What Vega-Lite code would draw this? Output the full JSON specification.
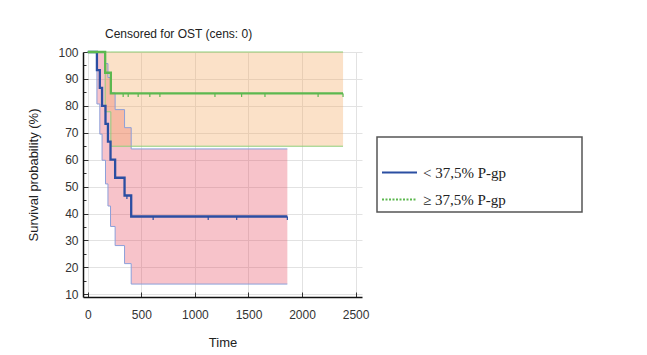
{
  "$schema": "https://vega.github.io/schema/vega-lite/v6.json",
  "width": 279,
  "height": 245,
  "autosize": "none",
  "padding": {"left": 83, "top": 52, "right": 285, "bottom": 58},
  "background": "white",
  "title": {
    "text": "Censored for OST (cens: 0)",
    "anchor": "start",
    "frame": "group",
    "dx": 22,
    "offset": 5,
    "font": "Liberation Sans",
    "fontSize": 12,
    "fontWeight": "normal",
    "color": "#222"
  },
  "config": {
    "view": {"stroke": null},
    "axis": {
      "labelFont": "Liberation Sans",
      "labelFontSize": 12,
      "labelColor": "#333",
      "titleFont": "Liberation Sans",
      "titleFontSize": 13,
      "titleFontWeight": "normal",
      "titleColor": "#222",
      "domainColor": "#111",
      "domainWidth": 1.5,
      "tickColor": "#333",
      "gridColor": "#e2e2e2",
      "labelOverlap": false
    }
  },
  "datasets": {
    "km": [
      {"g": "< 37,5% P-gp", "t": 0, "s": 100, "lo": 100, "hi": 100},
      {"g": "< 37,5% P-gp", "t": 85, "s": 93.3, "lo": 80.7, "hi": 100},
      {"g": "< 37,5% P-gp", "t": 112, "s": 86.7, "lo": 69.5, "hi": 100},
      {"g": "< 37,5% P-gp", "t": 133, "s": 80.0, "lo": 59.8, "hi": 100},
      {"g": "< 37,5% P-gp", "t": 165, "s": 73.3, "lo": 51.0, "hi": 95.7},
      {"g": "< 37,5% P-gp", "t": 188, "s": 66.7, "lo": 42.8, "hi": 90.5},
      {"g": "< 37,5% P-gp", "t": 212, "s": 60.0, "lo": 35.2, "hi": 84.8},
      {"g": "< 37,5% P-gp", "t": 255, "s": 53.3, "lo": 28.1, "hi": 78.6},
      {"g": "< 37,5% P-gp", "t": 343, "s": 46.7, "lo": 21.4, "hi": 71.9},
      {"g": "< 37,5% P-gp", "t": 405, "s": 38.9, "lo": 13.8, "hi": 64.0},
      {"g": "< 37,5% P-gp", "t": 1863, "s": 38.9, "lo": 13.8, "hi": 64.0},
      {"g": "≥ 37,5% P-gp", "t": 0, "s": 100, "lo": 100, "hi": 100},
      {"g": "≥ 37,5% P-gp", "t": 162, "s": 92.3, "lo": 77.8, "hi": 100},
      {"g": "≥ 37,5% P-gp", "t": 215, "s": 84.6, "lo": 65.0, "hi": 100},
      {"g": "≥ 37,5% P-gp", "t": 2383, "s": 84.6, "lo": 65.0, "hi": 100}
    ],
    "censor": [
      {"g": "< 37,5% P-gp", "t": 365, "s": 46.7},
      {"g": "< 37,5% P-gp", "t": 610, "s": 38.9},
      {"g": "< 37,5% P-gp", "t": 1124, "s": 38.9},
      {"g": "< 37,5% P-gp", "t": 1390, "s": 38.9},
      {"g": "< 37,5% P-gp", "t": 1863, "s": 38.9},
      {"g": "≥ 37,5% P-gp", "t": 330, "s": 84.6},
      {"g": "≥ 37,5% P-gp", "t": 377, "s": 84.6},
      {"g": "≥ 37,5% P-gp", "t": 470, "s": 84.6},
      {"g": "≥ 37,5% P-gp", "t": 579, "s": 84.6},
      {"g": "≥ 37,5% P-gp", "t": 673, "s": 84.6},
      {"g": "≥ 37,5% P-gp", "t": 1187, "s": 84.6},
      {"g": "≥ 37,5% P-gp", "t": 1436, "s": 84.6},
      {"g": "≥ 37,5% P-gp", "t": 1654, "s": 84.6},
      {"g": "≥ 37,5% P-gp", "t": 2150, "s": 84.6},
      {"g": "≥ 37,5% P-gp", "t": 2383, "s": 84.6}
    ]
  },
  "data": {"name": "km"},
  "encoding": {
    "x": {
      "field": "t",
      "type": "quantitative",
      "title": "Time",
      "scale": {"domain": [-45, 2560], "nice": false, "zero": false},
      "axis": {
        "values": [0, 500, 1000, 1500, 2000, 2500],
        "format": "d",
        "grid": true,
        "tickSize": -5,
        "labelPadding": 17,
        "titlePadding": 16
      }
    },
    "y": {
      "field": "s",
      "type": "quantitative",
      "title": "Survival probability (%)",
      "scale": {"domain": [9, 100], "nice": false, "zero": false},
      "axis": {
        "values": [10, 15, 20, 25, 30, 35, 40, 45, 50, 55, 60, 65, 70, 75, 80, 85, 90, 95, 100],
        "labelExpr": "datum.value % 10 === 0 ? datum.label : ''",
        "grid": true,
        "gridOpacity": {"condition": {"test": "datum.value % 10 === 0", "value": 1}, "value": 0},
        "tickSize": {"condition": {"test": "datum.value % 10 === 0", "value": -5}, "value": -3},
        "labelPadding": 10,
        "titlePadding": 17
      }
    }
  },
  "layer": [
    {
      "transform": [{"filter": "datum.g === '< 37,5% P-gp'"}],
      "mark": {"type": "area", "interpolate": "step-after", "color": "#e8495f", "opacity": 0.33},
      "encoding": {
        "y": {"field": "lo", "type": "quantitative", "title": "Survival probability (%)"},
        "y2": {"field": "hi"}
      }
    },
    {
      "transform": [{"filter": "datum.g === '≥ 37,5% P-gp'"}],
      "mark": {"type": "area", "interpolate": "step-after", "color": "#f4a962", "opacity": 0.35},
      "encoding": {
        "y": {"field": "lo", "type": "quantitative", "title": "Survival probability (%)"},
        "y2": {"field": "hi"}
      }
    },
    {
      "transform": [
        {"filter": "datum.g === '< 37,5% P-gp'"},
        {"fold": ["lo", "hi"], "as": ["bound", "v"]}
      ],
      "mark": {"type": "line", "interpolate": "step-after", "color": "#8c9fd9", "strokeWidth": 1},
      "encoding": {
        "y": {"field": "v", "type": "quantitative", "title": "Survival probability (%)"},
        "detail": {"field": "bound"}
      }
    },
    {
      "transform": [
        {"filter": "datum.g === '≥ 37,5% P-gp'"},
        {"fold": ["lo", "hi"], "as": ["bound", "v"]}
      ],
      "mark": {"type": "line", "interpolate": "step-after", "color": "#8fcf7a", "strokeWidth": 1},
      "encoding": {
        "y": {"field": "v", "type": "quantitative", "title": "Survival probability (%)"},
        "detail": {"field": "bound"}
      }
    },
    {
      "mark": {"type": "line", "interpolate": "step-after", "strokeWidth": 2.3},
      "encoding": {
        "color": {
          "field": "g",
          "type": "nominal",
          "scale": {"domain": ["< 37,5% P-gp", "≥ 37,5% P-gp"], "range": ["#2b4ea2", "#5cb84f"]},
          "legend": {
            "orient": "none",
            "legendX": 294,
            "legendY": 85,
            "title": "\u00a0",
            "titleFontSize": 13,
            "titlePadding": 0,
            "padding": 4,
            "rowPadding": -7,
            "strokeColor": "#555",
            "labelFont": "Liberation Serif",
            "labelFontSize": 15,
            "labelColor": "#222",
            "labelOffset": 5,
            "labelLimit": 400,
            "labelExpr": "datum.label + '\u00a0\u00a0\u00a0\u00a0\u00a0\u00a0\u00a0\u00a0\u00a0\u00a0\u00a0\u00a0\u00a0\u00a0\u00a0\u00a0\u00a0\u00a0\u00a0\u200b'",
            "symbolType": "stroke",
            "symbolSize": 1225,
            "symbolStrokeWidth": 2,
            "encode": {
              "legend": {"update": {"strokeWidth": {"value": 1.5}}},
              "symbols": {"update": {"strokeDash": {"signal": "datum.value === '≥ 37,5% P-gp' ? [2, 1.5] : [1, 0]"}}}
            }
          }
        }
      }
    },
    {
      "data": {"name": "censor"},
      "mark": {"type": "point", "shape": "M0,0L0,1", "filled": false, "size": 50, "strokeWidth": 1.2, "opacity": 1},
      "encoding": {
        "stroke": {
          "field": "g",
          "type": "nominal",
          "scale": {"domain": ["< 37,5% P-gp", "≥ 37,5% P-gp"], "range": ["#2b4ea2", "#5cb84f"]},
          "legend": null
        }
      }
    }
  ]
}
